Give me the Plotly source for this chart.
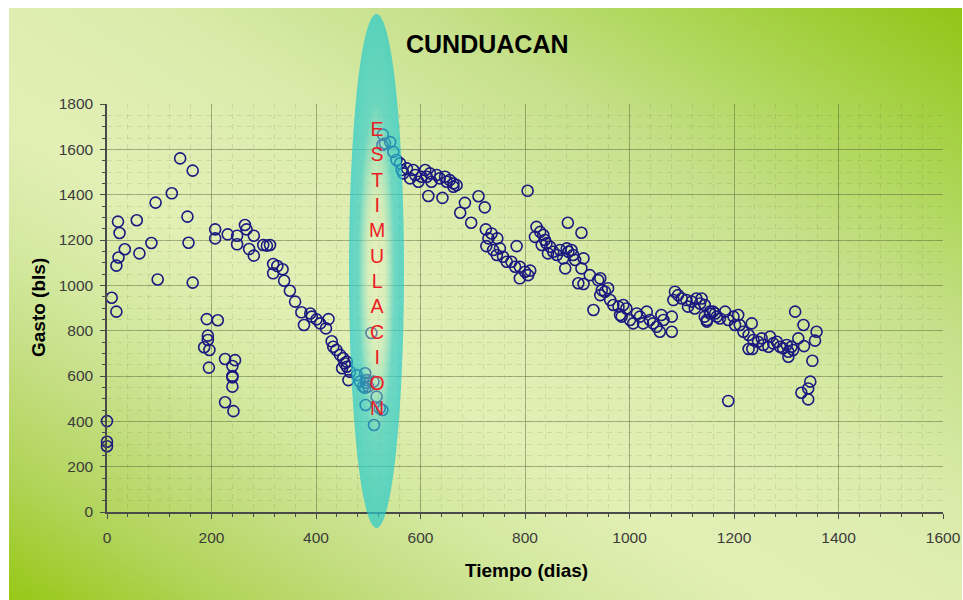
import base64
import plotly.graph_objects as go

# ---------------- data ----------------
dias = [0, 0, 0, 9, 18, 18, 22, 21, 24, 34, 57, 62, 85, 93, 97, 124, 140, 154, 156, 164, 164,
        186, 191, 193, 193, 195, 196, 207, 207, 212, 226, 226, 231, 240, 240, 240, 240, 242, 245,
        249, 249, 264, 267, 272, 281, 281, 299, 306, 312,
        318, 326, 336, 318, 339, 350, 360, 372, 377, 389, 392, 401, 408, 419, 424, 430, 433, 439,
        446, 452, 455, 459, 462, 465, 450, 459, 478, 484, 490, 494, 497, 500, 494, 496, 510, 495,
        506, 511, 516, 522, 527,
        528, 527, 542, 532, 548, 554, 561, 564, 567, 574, 580, 586, 590, 596, 602, 609, 612, 618,
        621, 631, 637, 647, 650, 656, 663, 669, 663, 615, 642, 685, 676, 711, 723, 697, 805,
        725, 736, 730, 747, 726, 739, 752, 746, 758, 765, 774, 781, 784, 790, 800, 806, 810, 790,
        822, 829, 819, 835, 832, 841, 844, 838, 848, 854, 861, 867, 873, 880, 883, 889, 892, 896,
        912, 877, 908, 882, 908, 924, 940, 944, 902, 912, 947, 953, 959, 944, 963, 969, 979, 988,
        994, 982, 985, 1001, 1007, 1014, 1020, 1026, 1033, 1039, 1045, 1052, 1058, 1061, 1065,
        1081, 1081, 931,
        1087, 1093, 1084, 1100, 1109, 1119, 1128, 1125, 1135, 1112, 1148, 1154, 1160, 1167, 1144,
        1138, 1144, 1154, 1148, 1164, 1173, 1183, 1189, 1199, 1208, 1202, 1211, 1218, 1234, 1228,
        1237, 1246, 1253, 1256, 1269, 1266, 1275, 1282, 1288, 1294, 1301, 1304, 1310, 1313, 1304,
        1228, 1235, 1317, 1333, 1323, 1334, 1358, 1355, 1350, 1346, 1342, 1329, 1342, 1189]

gasto = [401, 310, 290, 945, 884, 1087, 1123, 1281, 1231, 1159, 1287, 1141, 1187, 1365, 1026, 1406,
         1560, 1303, 1188, 1506, 1012,
         727, 851, 778, 759, 637, 715, 1247, 1207, 846, 675, 484, 1225, 644, 600, 594, 553, 445, 670,
         1219, 1181, 1266, 1247, 1160, 1219, 1131, 1178, 1175, 1178,
         1094, 1085, 1071, 1053, 1020, 976, 928, 881, 825, 876, 862, 850, 832, 810, 851, 753, 729,
         715, 693, 678, 656, 641, 582, 619, 634, 663, 604, 575, 553, 612, 582, 553, 548, 570, 575,
         472, 790, 384, 509, 457, 450,
         1665, 1619, 1632, 1626, 1589, 1553, 1538, 1509, 1494, 1516, 1472, 1509, 1487, 1457, 1479,
         1509, 1479, 1494, 1457, 1487, 1472, 1479, 1457, 1464, 1450, 1442, 1435, 1394, 1386, 1364,
         1320, 1393, 1344, 1276, 1417,
         1247, 1229, 1207, 1207, 1173, 1156, 1163, 1134, 1126, 1104, 1104, 1082, 1173, 1082, 1060,
         1045, 1065, 1031,
         1258, 1236, 1214, 1222, 1178, 1185, 1141, 1200, 1170, 1148, 1134, 1156, 1119, 1163, 1148,
         1156, 1134, 1112, 1119, 1075, 1075, 1276, 1232, 1045, 1023, 1031, 1009, 1006, 979, 972,
         987, 957, 935, 913, 906, 913, 898, 869, 862, 847, 832, 876, 862, 832, 884, 847, 832, 817,
         795, 869, 847, 862, 795, 891,
         972, 957, 935, 942, 935, 928, 942, 898, 920, 906, 840, 876, 884, 862, 862,
         942, 913, 884, 847, 876, 854, 884, 847, 862, 869, 825, 825, 795, 832, 781,
         759, 751, 766, 737, 773, 729, 744, 751, 729, 722, 737, 707, 729, 715, 685,
         719, 719, 884, 825, 766, 732, 795, 756, 667, 575, 545, 526, 497, 490]

x_tickvals = [0, 200, 400, 600, 800, 1000, 1200, 1400, 1600]
y_tickvals = [0, 200, 400, 600, 800, 1000, 1200, 1400, 1600, 1800]
x_ticktext = [str(v) for v in x_tickvals]
y_ticktext = [str(v) for v in y_tickvals]

chart_title = "CUNDUACAN"
x_title = "Tiempo (dias)"
y_title = "Gasto (bls)"
estim_label = "ESTIMULACION"

# ---------------- layout geometry ----------------
W, H = 963, 600
L, R, T, B = 107, 20, 104, 88
PW, PH = W - L - R, H - T - B


def pxx(px):
    return (px - L) / PW


def pxy(py):
    return (H - B - py) / PH


def svg_uri(svg):
    return "data:image/svg+xml;base64," + base64.b64encode(svg.encode()).decode()


bg_w, bg_h = 953, 592
bg_svg = f'''<svg xmlns="http://www.w3.org/2000/svg" width="{bg_w}" height="{bg_h}" viewBox="0 0 {bg_w} {bg_h}" preserveAspectRatio="none">
<defs><linearGradient id="g" x1="1" y1="0" x2="0" y2="1">
<stop offset="0" stop-color="#90c516"/>
<stop offset="0.15" stop-color="#acd553"/>
<stop offset="0.28" stop-color="#c5e08a"/>
<stop offset="0.42" stop-color="#d9eba9"/>
<stop offset="0.5" stop-color="#dfedb2"/>
<stop offset="0.6" stop-color="#e2efb5"/>
<stop offset="0.7" stop-color="#d4e9a0"/>
<stop offset="0.78" stop-color="#c6df86"/>
<stop offset="0.89" stop-color="#b0d458"/>
<stop offset="1" stop-color="#98c716"/>
</linearGradient></defs>
<rect x="0" y="0" width="{bg_w}" height="{bg_h}" fill="url(#g)"/></svg>'''

el_w, el_h = 55, 514
el_svg = f'''<svg xmlns="http://www.w3.org/2000/svg" width="{el_w}" height="{el_h}" viewBox="0 0 {el_w} {el_h}" preserveAspectRatio="none">
<defs><radialGradient id="e" cx="0.5" cy="0.5" r="0.5">
<stop offset="0" stop-color="#f2f2c8" stop-opacity="0.4"/>
<stop offset="0.3" stop-color="#cfeec4" stop-opacity="0.45"/>
<stop offset="0.65" stop-color="#30cccc" stop-opacity="0.64"/>
<stop offset="1" stop-color="#28cacc" stop-opacity="0.7"/>
</radialGradient></defs>
<ellipse cx="{el_w/2}" cy="{el_h/2}" rx="{el_w/2}" ry="{el_h/2}" fill="url(#e)"/></svg>'''

fig = go.Figure()
fig.add_trace(go.Scatter(
    x=dias, y=gasto, mode="markers", cliponaxis=False,
    marker=dict(symbol="circle-open", size=11, color="rgb(26,26,128)", line=dict(width=1.6)),
    showlegend=False, hoverinfo="x+y"))

grid_major = "rgba(70,80,45,0.38)"
grid_minor = "rgba(90,100,60,0.14)"

fig.update_layout(
    width=W, height=H, autosize=False,
    margin=dict(l=L, r=R, t=T, b=B, pad=0, autoexpand=False),
    paper_bgcolor="white",
    plot_bgcolor="rgba(0,0,0,0)",
    font=dict(family="Arial, Liberation Sans, sans-serif", color="#3c3c3c"),
    xaxis=dict(range=[0, 1600], tickvals=x_tickvals, ticktext=x_ticktext, automargin=False,
               showgrid=True, gridcolor=grid_major, gridwidth=1,
               zeroline=False, showline=True, linecolor="#4a4a4a", linewidth=1.5,
               ticks="outside", ticklen=5, tickcolor="#4a4a4a", tickwidth=1.3,
               ticklabelstandoff=6,
               tickfont=dict(size=15.5, color="#3c3c3c"),
               minor=dict(dtick=40, tick0=0, showgrid=True, gridcolor=grid_minor,
                          griddash="5px,5px", ticks="outside", ticklen=3,
                          tickcolor="#4a4a4a", tickwidth=1)),
    yaxis=dict(range=[0, 1800], tickvals=y_tickvals, ticktext=y_ticktext, automargin=False,
               showgrid=True, gridcolor=grid_major, gridwidth=1,
               zeroline=False, showline=True, linecolor="#4a4a4a", linewidth=1.5,
               ticks="outside", ticklen=5, tickcolor="#4a4a4a", tickwidth=1.3,
               ticklabelstandoff=4,
               tickfont=dict(size=15.5, color="#3c3c3c"),
               minor=dict(dtick=50, tick0=0, showgrid=True, gridcolor=grid_minor,
                          griddash="5px,5px", ticks="outside", ticklen=3,
                          tickcolor="#4a4a4a", tickwidth=1)),
    images=[
        dict(source=svg_uri(bg_svg), xref="paper", yref="paper",
             x=pxx(9), y=pxy(8), sizex=bg_w / PW, sizey=bg_h / PH,
             xanchor="left", yanchor="top", sizing="stretch", layer="below"),
        dict(source=svg_uri(el_svg), xref="paper", yref="paper",
             x=pxx(349), y=pxy(14), sizex=el_w / PW, sizey=el_h / PH,
             xanchor="left", yanchor="top", sizing="stretch", layer="above"),
    ],
    annotations=[
        dict(text=f"<b>{chart_title}</b>", xref="paper", yref="paper",
             x=pxx(487), y=pxy(44), xanchor="center", yanchor="middle", showarrow=False,
             font=dict(size=25, color="black", family="Arial, Liberation Sans, sans-serif")),
        dict(text=f"<b>{x_title}</b>", xref="paper", yref="paper",
             x=pxx(526.5), y=pxy(570), xanchor="center", yanchor="middle", showarrow=False,
             font=dict(size=19, color="black")),
        dict(text=f"<b>{y_title}</b>", xref="paper", yref="paper", textangle=-90,
             x=pxx(38), y=pxy(308), xanchor="center", yanchor="middle", showarrow=False,
             font=dict(size=19, color="black")),
        dict(text="<br>".join(list(estim_label)), xref="paper", yref="paper",
             x=pxx(376.5), y=pxy(268), xanchor="center", yanchor="middle", showarrow=False,
             align="center",
             font=dict(size=19.5, color="#ec1c24", family="Arial, Liberation Sans, sans-serif")),
    ],
)

fig.write_html("out.html")
